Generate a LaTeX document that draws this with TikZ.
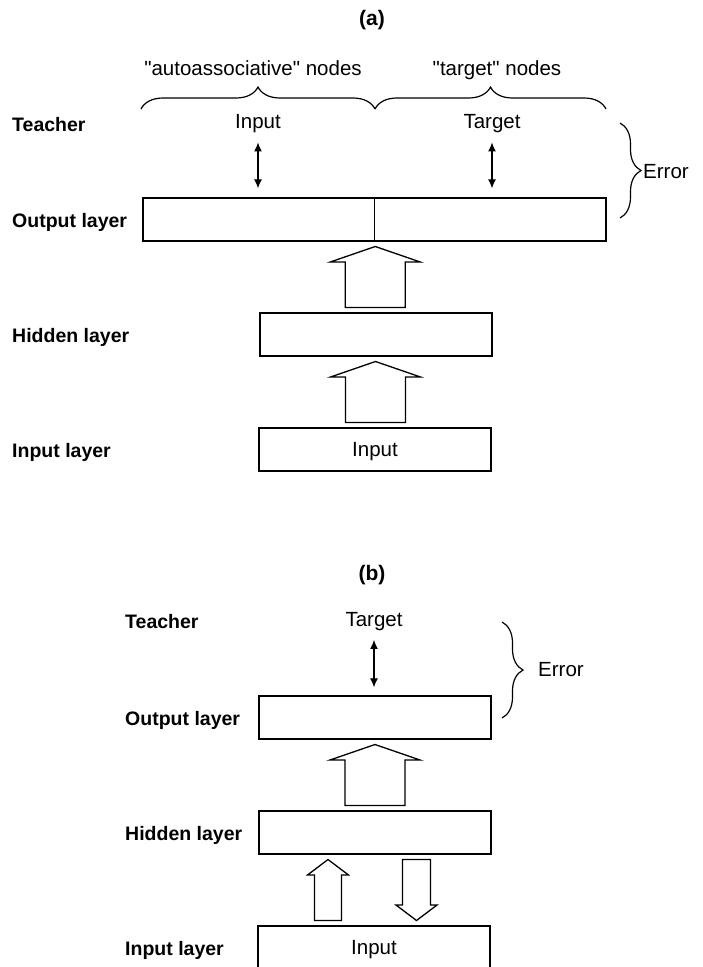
\documentclass[tikz,border=0pt]{standalone}
\usepackage{fontspec}
\setmainfont{Liberation Sans}
\usetikzlibrary{arrows.meta,calc,decorations.pathreplacing}

\tikzset{
    layerbox/.style={draw, line width=1.3pt, minimum width=232pt, minimum height=43pt, inner sep=0pt, text depth=0pt},
    lbl/.style={anchor=base west, inner sep=0pt, font=\fontsize{19.5}{23}\selectfont\bfseries},
    txt/.style={inner sep=0pt, font=\fontsize{20.5}{24}\selectfont},
    ttl/.style={anchor=base, inner sep=0pt, font=\fontsize{21}{25}\selectfont\bfseries},
    teach/.style={{Latex[length=9pt,width=8pt]}-{Latex[length=9pt,width=8pt]}, line width=1.2pt},
    curly/.style={decorate, decoration={brace, amplitude=#1}, line width=1.2pt},
    pics/fatarrow/.style 2 args={code={
        \draw[line width=1.3pt, fill=white] (-#1,30.5) -- (-#1,-15) -- (-#2,-15) -- (0,-30.5)
            -- (#2,-15) -- (#1,-15) -- (#1,30.5) -- cycle;
    }}
}

\begin{document}
\begin{tikzpicture}[x=1pt, y=-1pt]
    \useasboundingbox (0,0) rectangle (703,967);
    \clip (0,0) rectangle (703,967);

    % ---------- (a) ----------
    \node[ttl] (titleA) at (372,25) {(a)};
    \foreach \nm/\yy [count=\i] in {Teacher/131, Output layer/227, Hidden layer/342, Input layer/457} {
        \node[lbl] (labA\i) at (12,\yy) {\nm};
    }
    % layers
    \node[layerbox, minimum width=463pt] (outA) at (374.5,219.5) {};
    \draw[line width=1.3pt] (outA.north) -- (outA.south);
    \node[layerbox] (hidA) at (376,334.5) {};
    \node[layerbox, txt] (inA) at (375,449.5) {Input};
    % node groups
    \node[txt, anchor=base] (autoA) at (253,75) {\textquotedbl autoassociative\textquotedbl{} nodes};
    \node[txt, anchor=base] (targA) at (497,75) {\textquotedbl target\textquotedbl{} nodes};
    \draw[curly=22pt] (141,109) -- (375,109);
    \draw[curly=22pt] (375,109) -- (606,109);
    % teacher signals
    \node[txt, anchor=base] (tinA) at (258,128) {Input};
    \node[txt, anchor=base] (ttgA) at (492,128) {Target};
    \draw[teach, shorten <=10pt, shorten >=9pt] (tinA.south) -- (tinA.south |- outA.north);
    \draw[teach, shorten <=10pt, shorten >=9pt] (ttgA.south) -- (ttgA.south |- outA.north);
    \draw[curly=21pt] (620,123) -- (620,218);
    \node[txt, anchor=west] (errA) at (643,172) {Error};
    % forward flow
    \pic at ($(outA.south)!0.5!(hidA.north)$) {fatarrow={30}{45}};
    \pic at ($(hidA.south)!0.5!(inA.north)$) {fatarrow={30}{45}};

    % ---------- (b) ----------
    \node[ttl] (titleB) at (372,580) {(b)};
    \foreach \nm/\yy [count=\i] in {Teacher/628, Output layer/725, Hidden layer/840, Input layer/955} {
        \node[lbl] (labB\i) at (125,\yy) {\nm};
    }
    % layers
    \node[layerbox] (outB) at (375,717.5) {};
    \node[layerbox] (hidB) at (375,832.5) {};
    \node[layerbox, txt] (inB) at (374,947.5) {Input};
    % teacher signal
    \node[txt, anchor=base] (ttgB) at (374,626) {Target};
    \draw[teach, shorten <=9.5pt, shorten >=8pt] (ttgB.south) -- (ttgB.south |- outB.north);
    \draw[curly=21pt] (502,622) -- (502,718);
    \node[txt, anchor=west] (errB) at (538,670) {Error};
    % flow between layers
    \pic at ($(outB.south)!0.5!(hidB.north)$) {fatarrow={30}{45}};
    \pic at ($(hidB.south)!0.5!(inB.north)+(-46.5,0)$) {fatarrow={13.5}{20.5}};
    \pic[rotate=180] at ($(hidB.south)!0.5!(inB.north)+(42,0)$) {fatarrow={14}{20.5}};
\end{tikzpicture}
\end{document}
